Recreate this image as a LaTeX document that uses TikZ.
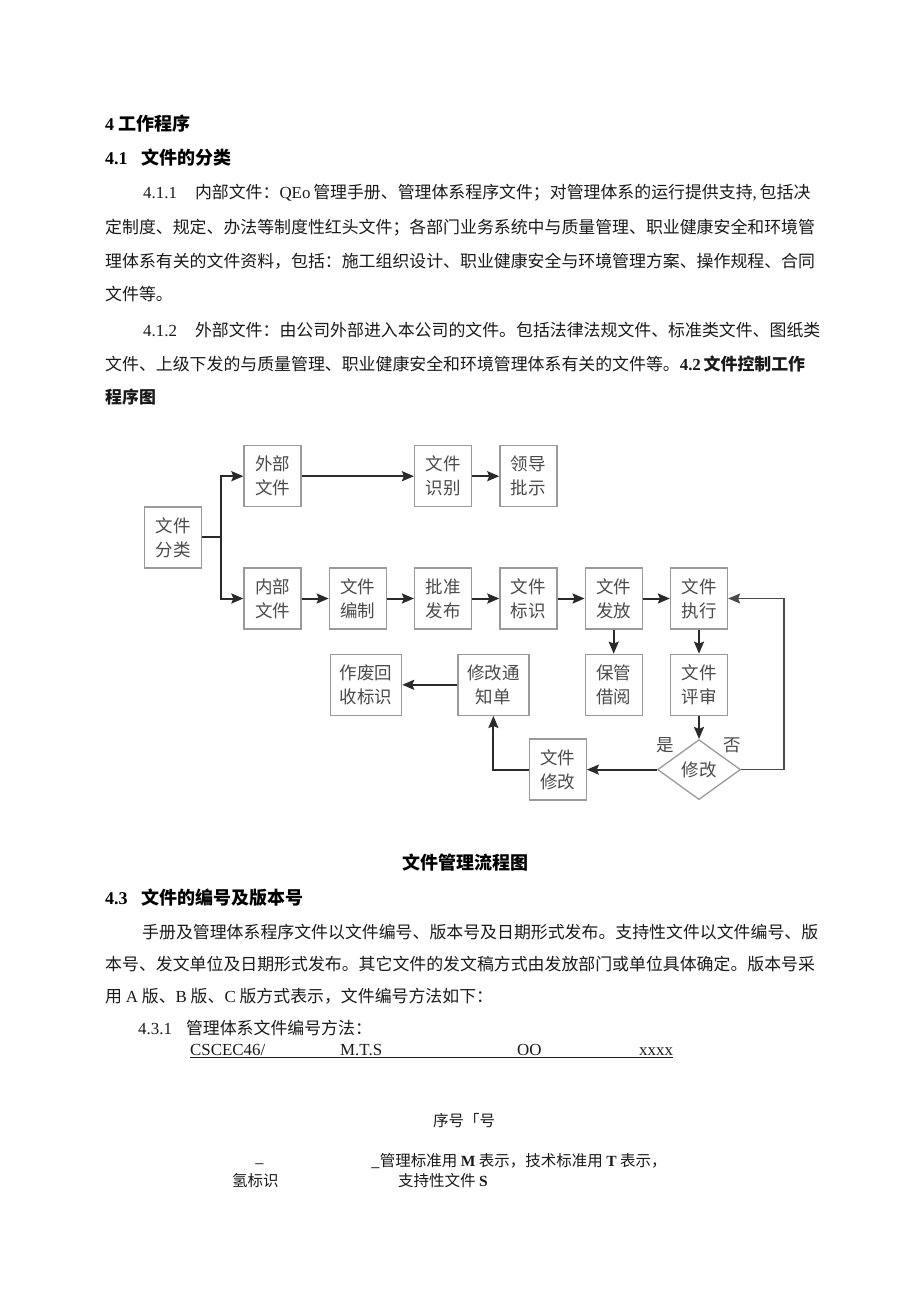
\documentclass[tikz,border=0pt]{standalone}
\usepackage{fontspec}
\setmainfont{Noto Sans CJK SC}
\newfontfamily\tm{Liberation Serif}
\usetikzlibrary{arrows.meta,positioning,shapes.geometric,calc}
\definecolor{pgText}{HTML}{1A1A1A}
\definecolor{boxBorder}{HTML}{9A9A9A}
\definecolor{boxText}{HTML}{4A4A4A}
\definecolor{flowLine}{HTML}{2A2A2A}
\newcommand{\bodysize}{\fontsize{16.9pt}{20pt}\selectfont}
\newcommand{\headsize}{\fontsize{18pt}{22pt}\selectfont}
\newcommand{\boxsize}{\fontsize{17.5pt}{24pt}\selectfont}
\newcommand{\notesize}{\fontsize{15.5pt}{19pt}\selectfont}
\tikzset{
    % page text
    bodytext/.style={anchor=base west,inner sep=0pt,font=\bodysize,text=pgText},
    headtext/.style={anchor=base west,inner sep=0pt,font=\headsize\bfseries,text=black},
    notetext/.style={bodytext,font=\notesize},
    % flow chart
    flowbox/.style={rectangle,draw=boxBorder,line width=1.3pt,fill=white,minimum width=57pt,minimum height=61pt,inner sep=0pt,align=center,font=\boxsize,text=boxText},
    widebox/.style={flowbox,minimum width=71pt},
    decision/.style={diamond,aspect=1.4,draw=boxBorder,line width=1.3pt,fill=white,minimum width=83pt,minimum height=60pt,inner sep=0pt,font=\boxsize,text=boxText},
    arrow/.style={-{Stealth[length=12pt,width=10pt,inset=2pt]},line width=2pt,flowLine},
    link/.style={line width=2pt,flowLine},
    backarrow/.style={arrow,line width=1.5pt,flowLine!85}
}

\begin{document}
\begin{tikzpicture}[x=1pt,y=-1pt]
  % page
  \path[use as bounding box,fill=white] (0,0) rectangle (920,1301);

  % Section 4 text
  \node[headtext] (h4) at (105,130) {{\tm\bfseries 4}\hspace{4pt}工作程序};
  \node[headtext] (h41) at (105,164) {{\tm\bfseries 4.1}\hspace{14pt}文件的分类};
  \node[bodytext] (l1) at (143,198) {{\tm 4.1.1}\hspace{18pt}内部文件：{\tm QEo}\,管理手册、管理体系程序文件；对管理体系的运行提供支持{\tm ,}\,包括决};
  \node[bodytext] (l2) at (105,233) {定制度、规定、办法等制度性红头文件；各部门业务系统中与质量管理、职业健康安全和环境管};
  \node[bodytext] (l3) at (105,267) {理体系有关的文件资料，包括：施工组织设计、职业健康安全与环境管理方案、操作规程、合同};
  \node[bodytext] (l4) at (105,300) {文件等。};
  \node[bodytext] (l5) at (143,336) {{\tm 4.1.2}\hspace{18pt}外部文件：由公司外部进入本公司的文件。包括法律法规文件、标准类文件、图纸类};
  \node[bodytext] (l6) at (105,370) {文件、上级下发的与质量管理、职业健康安全和环境管理体系有关的文件等。{\tm\bfseries 4.2}\,{\bfseries 文件控制工作}};
  \node[bodytext,font=\bodysize\bfseries] (l7) at (105,403) {程序图};

  % Flow chart: main row
  \node[flowbox] (neibu) at (272.5,598.5) {内部\\文件};
  \node[flowbox,right=27pt of neibu] (bianzhi) {文件\\编制};
  \node[flowbox,right=27pt of bianzhi] (fabu) {批准\\发布};
  \node[flowbox,right=27pt of fabu] (biaoshi) {文件\\标识};
  \node[flowbox,right=27pt of biaoshi] (fafang) {文件\\发放};
  \node[flowbox,right=27pt of fafang] (zhixing) {文件\\执行};

  % upper row
  \node[flowbox,above=60pt of neibu] (waibu) {外部\\文件};
  \node[flowbox,above=60pt of fabu] (shibie) {文件\\识别};
  \node[flowbox,above=60pt of biaoshi] (pishi) {领导\\批示};
  \coordinate (mid) at ($(waibu.west)!0.5!(neibu.west)$);
  \node[flowbox,left=41pt of mid] (fenlei) {文件\\分类};

  % lower rows
  \node[flowbox,below=24pt of fafang] (baoguan) {保管\\借阅};
  \node[flowbox,below=24pt of zhixing] (pingshen) {文件\\评审};
  \node[widebox,left=55pt of baoguan] (tongzhi) {修改通\\知单};
  \node[widebox,left=55pt of tongzhi] (zuofei) {作废回\\收标识};
  \node[decision,below=23pt of pingshen] (panduan) {修改};
  \node[flowbox,left=70pt of panduan] (xiugai) {文件\\修改};
  \node[font=\boxsize,text=boxText] (shi) at ($(panduan.west)+(8,-24)$) {是};
  \node[font=\boxsize,text=boxText] (fou) at ($(panduan.east)+(-9,-24)$) {否};

  % connectors
  \coordinate[right=19pt of fenlei] (fork);
  \draw[link] (fenlei) -- (fork);
  \draw[arrow] (fork) |- (waibu);
  \draw[arrow] (fork) |- (neibu);
  \draw[arrow] (waibu) -- (shibie);
  \draw[arrow] (shibie) -- (pishi);
  \foreach \a/\b in {neibu/bianzhi,bianzhi/fabu,fabu/biaoshi,biaoshi/fafang,fafang/zhixing,fafang/baoguan,zhixing/pingshen,pingshen/panduan,panduan/xiugai,tongzhi/zuofei}
    \draw[arrow] (\a) -- (\b);
  \draw[arrow] (xiugai) -| (tongzhi);
  \draw[backarrow] (panduan.east) -- ++(43,0) |- (zhixing);

  % caption and section 4.3
  \node[anchor=base,inner sep=0pt,font=\headsize\bfseries] (caption) at (465,869) {文件管理流程图};
  \node[headtext] (h43) at (105,904) {{\tm\bfseries 4.3}\hspace{14pt}文件的编号及版本号};
  \node[bodytext] (p1) at (142,938) {手册及管理体系程序文件以文件编号、版本号及日期形式发布。支持性文件以文件编号、版};
  \node[bodytext] (p2) at (105,970) {本号、发文单位及日期形式发布。其它文件的发文稿方式由发放部门或单位具体确定。版本号采};
  \node[bodytext] (p3) at (105,1002) {用 {\tm A} 版、{\tm B} 版、{\tm C} 版方式表示，文件编号方法如下：};
  \node[bodytext] (p431) at (138,1034) {{\tm 4.3.1}\hspace{14pt}管理体系文件编号方法：};
  \node[bodytext,font=\tm\bodysize] (code) at (190,1055) {CSCEC46/};
  \node[bodytext,font=\tm\bodysize] (mts) at (340,1055) {M.T.S};
  \node[bodytext,font=\tm\bodysize] (oo) at (517,1055) {OO};
  \node[bodytext,font=\tm\bodysize] (xxxx) at (639,1055) {xxxx};
  \draw[line width=1.2pt,pgText] ([yshift=-2.5pt]code.base west) -- ([yshift=-2.5pt]xxxx.base east);

  % notes below the code
  \node[notetext] (seq) at (433,1126) {序号「号};
  \node[notetext] (dash) at (255,1162) {\_};
  \node[notetext] (mt) at (371,1166) {\_管理标准用 {\tm\bfseries M} 表示，技术标准用 {\tm\bfseries T} 表示，};
  \node[notetext] (qing) at (232,1186) {氢标识};
  \node[notetext] (zhichi) at (398,1186) {支持性文件 {\tm\bfseries S}};
\end{tikzpicture}
\end{document}
